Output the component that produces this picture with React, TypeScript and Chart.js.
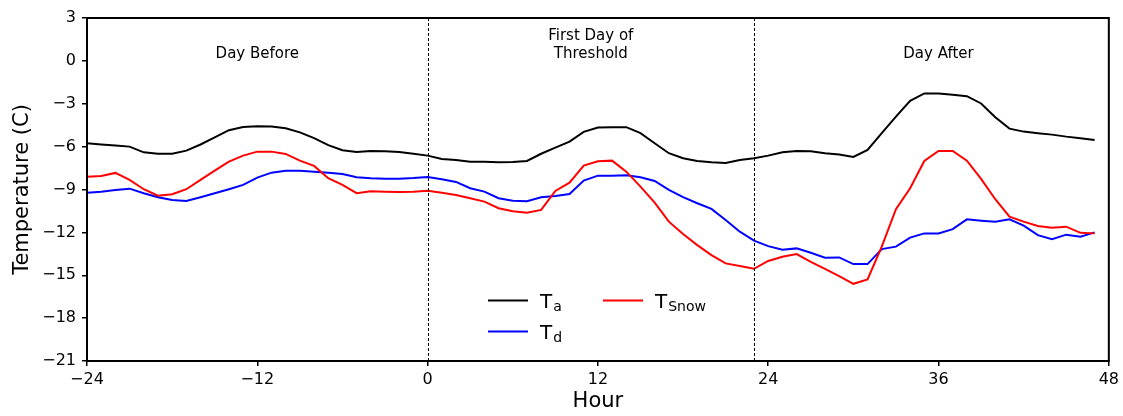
import React, { useEffect, useRef } from "react";
import { Chart, registerables } from "chart.js";

Chart.register(...registerables);

// Hour relative to the first day of threshold
const hours = [
  -24, -23, -22, -21, -20, -19, -18, -17, -16, -15, -14, -13, -12, -11, -10, -9, -8, -7, -6, -5, -4, -3, -2, -1,
  0, 1, 2, 3, 4, 5, 6, 7, 8, 9, 10, 11, 12, 13, 14, 15, 16, 17, 18, 19, 20, 21, 22, 23,
  24, 25, 26, 27, 28, 29, 30, 31, 32, 33, 34, 35, 36, 37, 38, 39, 40, 41, 42, 43, 44, 45, 46, 47,
];

// Air temperature (C)
const tAir = [
  -5.76, -5.85, -5.92, -6.0, -6.4, -6.5, -6.5, -6.28, -5.85, -5.35, -4.85, -4.62, -4.57, -4.6, -4.72, -5.0, -5.4, -5.9, -6.25, -6.38, -6.3, -6.33, -6.38, -6.5,
  -6.63, -6.86, -6.93, -7.05, -7.05, -7.09, -7.07, -7.0, -6.5, -6.07, -5.65, -4.97, -4.67, -4.64, -4.64, -5.06, -5.76, -6.46, -6.81, -7.0, -7.09, -7.14, -6.93, -6.82,
  -6.63, -6.39, -6.3, -6.33, -6.46, -6.55, -6.72, -6.23, -5.06, -3.9, -2.8, -2.28, -2.28, -2.37, -2.47, -2.98, -3.94, -4.74, -4.95, -5.06, -5.16, -5.3, -5.41, -5.53,
];

// Dew point temperature (C)
const tDew = [
  -9.22, -9.15, -9.03, -8.94, -9.26, -9.54, -9.73, -9.8, -9.54, -9.26, -8.98, -8.68, -8.17, -7.82, -7.68, -7.68, -7.75, -7.82, -7.91, -8.14, -8.21, -8.24, -8.24, -8.2,
  -8.12, -8.28, -8.47, -8.91, -9.15, -9.61, -9.78, -9.82, -9.54, -9.45, -9.31, -8.38, -8.03, -8.03, -8.0, -8.14, -8.4, -9.03, -9.54, -9.96, -10.36, -11.13, -11.95, -12.58,
  -12.96, -13.22, -13.12, -13.43, -13.78, -13.75, -14.22, -14.22, -13.17, -13.0, -12.37, -12.07, -12.07, -11.77, -11.09, -11.18, -11.25, -11.09, -11.53, -12.19, -12.47, -12.16, -12.3, -12.0,
];

// Snow surface temperature (C)
const tSnow = [
  -8.1, -8.05, -7.84, -8.33, -8.98, -9.43, -9.33, -8.98, -8.33, -7.68, -7.05, -6.63, -6.35, -6.35, -6.51, -6.98, -7.35, -8.21, -8.68, -9.26, -9.12, -9.15, -9.17, -9.15,
  -9.08, -9.22, -9.38, -9.61, -9.85, -10.31, -10.52, -10.62, -10.43, -9.1, -8.52, -7.33, -7.02, -6.98, -7.75, -8.8, -9.92, -11.25, -12.12, -12.89, -13.59, -14.17, -14.36, -14.55,
  -14.0, -13.7, -13.52, -14.06, -14.55, -15.06, -15.6, -15.29, -13.0, -10.38, -8.91, -7.0, -6.3, -6.3, -6.98, -8.26, -9.68, -10.9, -11.25, -11.55, -11.67, -11.6, -12.03, -12.07,
];

// Period boundaries (dashed lines) and period labels
const boundaries = [0, 23];
const periodLabels = [
  { hour: -12, lines: ["Day Before"], y: [0.45] },
  { hour: 11.5, lines: ["First Day of", "Threshold"], y: [1.75, 0.5] },
  { hour: 36, lines: ["Day After"], y: [0.45] },
];

const FONT = "'DejaVu Sans', 'Liberation Sans', sans-serif";
const minus = (v: number) => String(v).replace("-", "\u2212");

const toPoints = (vals: number[]) => hours.map((h, i) => ({ x: h, y: vals[i] }));

const overlayPlugin = {
  id: "overlay",
  afterDatasetsDraw(chart: any) {
    const { ctx, chartArea, scales } = chart;
    const xs = scales.x;
    const ys = scales.y;
    ctx.save();

    // dashed period boundaries
    ctx.strokeStyle = "#000";
    ctx.lineWidth = 1;
    ctx.setLineDash([3, 2]);
    boundaries.forEach((b) => {
      const px = Math.round(xs.getPixelForValue(b)) + 0.5;
      ctx.beginPath();
      ctx.moveTo(px, chartArea.top);
      ctx.lineTo(px, chartArea.bottom);
      ctx.stroke();
    });
    ctx.setLineDash([]);

    // frame
    ctx.lineWidth = 2;
    ctx.strokeRect(chartArea.left, chartArea.top, chartArea.right - chartArea.left, chartArea.bottom - chartArea.top);

    // period labels
    ctx.fillStyle = "#000";
    ctx.font = `15px ${FONT}`;
    ctx.textAlign = "center";
    ctx.textBaseline = "middle";
    periodLabels.forEach((p) => {
      p.lines.forEach((t, i) => {
        ctx.fillText(t, xs.getPixelForValue(p.hour), ys.getPixelForValue(p.y[i]));
      });
    });

    // legend with subscripted labels
    const entries = [
      { color: "#000000", sub: "a", dx: 401, dy: 282.5 },
      { color: "#0000ff", sub: "d", dx: 401, dy: 313.5 },
      { color: "#ff0000", sub: "Snow", dx: 516, dy: 282.5 },
    ];
    entries.forEach((e) => {
      const x0 = chartArea.left + e.dx;
      const y0 = chartArea.top + e.dy;
      ctx.strokeStyle = e.color;
      ctx.lineWidth = 2;
      ctx.beginPath();
      ctx.moveTo(x0, y0);
      ctx.lineTo(x0 + 40, y0);
      ctx.stroke();
      ctx.textAlign = "left";
      ctx.textBaseline = "alphabetic";
      ctx.font = `20px ${FONT}`;
      ctx.fillText("T", x0 + 52, y0 + 7.5);
      const tw = ctx.measureText("T").width;
      ctx.font = `14px ${FONT}`;
      ctx.fillText(e.sub, x0 + 52 + tw + 1, y0 + 10);
    });

    ctx.restore();
  },
};

export default function App() {
  const ref = useRef<HTMLCanvasElement | null>(null);

  useEffect(() => {
    if (!ref.current) return;
    const chart = new Chart(ref.current, {
      type: "line",
      data: {
        datasets: [
          { label: "Ta", data: toPoints(tAir), borderColor: "#000000", order: 3 },
          { label: "Td", data: toPoints(tDew), borderColor: "#0000ff", order: 2 },
          { label: "TSnow", data: toPoints(tSnow), borderColor: "#ff0000", order: 1 },
        ],
      },
      options: {
        animation: false,
        responsive: true,
        maintainAspectRatio: false,
        layout: { padding: { left: 0, right: 14, top: 18, bottom: 0 } },
        elements: {
          line: { borderWidth: 2, tension: 0, fill: false },
          point: { radius: 0, hoverRadius: 0 },
        },
        plugins: { legend: { display: false }, tooltip: { enabled: false } },
        scales: {
          x: {
            type: "linear",
            min: -24,
            max: 48,
            afterFit: (s: any) => {
              s.height = 55;
            },
            ticks: {
              stepSize: 12,
              color: "#000",
              font: { family: FONT, size: 16 },
              padding: 4,
              maxRotation: 0,
              callback: (v: any) => minus(v),
            },
            grid: {
              drawOnChartArea: false,
              drawTicks: true,
              tickLength: 5,
              color: "#000",
              lineWidth: 1.5,
            },
            border: { display: true, color: "#000", width: 2 },
            title: {
              display: true,
              text: "Hour",
              color: "#000",
              font: { family: FONT, size: 21 },
              padding: { top: 0, bottom: 2 },
            },
          },
          y: {
            min: -21,
            max: 3,
            afterFit: (s: any) => {
              s.width = 87;
            },
            ticks: {
              stepSize: 3,
              color: "#000",
              font: { family: FONT, size: 16 },
              padding: 6,
              callback: (v: any) => minus(v),
            },
            grid: {
              drawOnChartArea: false,
              drawTicks: true,
              tickLength: 5,
              color: "#000",
              lineWidth: 1.5,
            },
            border: { display: true, color: "#000", width: 2 },
            title: {
              display: true,
              text: "Temperature (C)",
              color: "#000",
              font: { family: FONT, size: 21 },
              padding: { top: 10, bottom: 0 },
            },
          },
        },
      },
      plugins: [overlayPlugin],
    });
    return () => chart.destroy();
  }, []);

  return (
    <div style={{ position: "absolute", left: 0, top: 0, width: 1123, height: 416, background: "#fff" }}>
      <canvas ref={ref} />
    </div>
  );
}
